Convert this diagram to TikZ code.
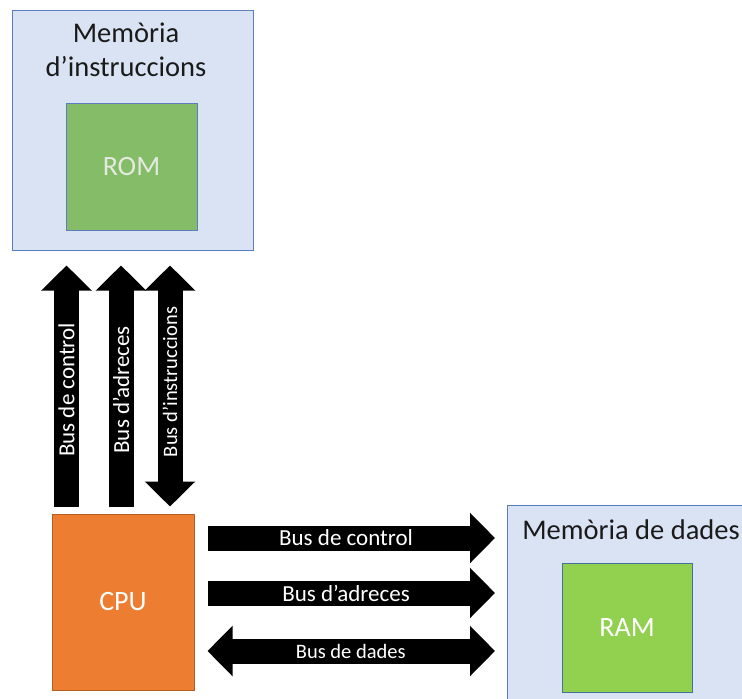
\documentclass[tikz,border=0pt]{standalone}
\usepackage{fontspec}
\setmainfont{Carlito}
\usetikzlibrary{arrows.meta, positioning}
\definecolor{memfill}{HTML}{DAE3F3}
\definecolor{memedge}{HTML}{5B7DBF}
\definecolor{romfill}{HTML}{84BC68}
\definecolor{romtext}{HTML}{E4EADF}
\definecolor{ramfill}{HTML}{92D050}
\definecolor{ramedge}{HTML}{41719C}
\definecolor{cpufill}{HTML}{ED7D31}
\definecolor{cpuedge}{HTML}{B55E22}
\definecolor{titletext}{HTML}{1A1A1A}
\begin{document}
\begin{tikzpicture}
[x=1pt, y=-1pt,
% STYLES
memory/.style={rectangle, draw=memedge, fill=memfill, line width=1pt, inner sep=0pt},
% The chip style is used for ROM, RAM and CPU
chip/.style={rectangle, draw=memedge, line width=1pt, inner sep=0pt, font=\fontsize{28}{28}\selectfont},
title/.style={font=\fontsize{28.5}{34}\selectfont, text=titletext, align=center},
bus/.style={line width=25pt, -{Triangle[width=49pt,length=25pt]}},
dualbus/.style={line width=25pt, {Triangle[width=49pt,length=25pt]}-{Triangle[width=49pt,length=25pt]}},
buslabel/.style={text=white, font=\fontsize{23}{23}\selectfont, inner sep=0pt},
smalllabel/.style={font=\fontsize{20.5}{20.5}\selectfont},
vbus/.style={shorten <=7pt, shorten >=15pt},
hbus/.style={shorten <=13pt, shorten >=12pt}]

\fill [white] (0,0) rectangle (742,699);
\path [use as bounding box, clip] (0,0) rectangle (742,699);

% Draw memories
\node [memory, minimum width=241pt, minimum height=240pt] (imem) at (132.5,130) {};
\node [title] (imemtitle) at (126,50) {Memòria\\d’instruccions};
\node [chip, fill=romfill, text=romtext, minimum width=131pt, minimum height=127pt] (rom) at (131.5,166.5) {ROM};

\node [memory, anchor=north west, minimum width=260pt, minimum height=210pt] (dmem) at (507,505) {};
\node [title] (dmemtitle) at (631,530) {Memòria de dades};
\node [chip, fill=ramfill, draw=ramedge, text=white, minimum width=130pt, minimum height=129pt] (ram) at (627,627.5) {RAM};

\node [chip, fill=cpufill, draw=cpuedge, text=white, minimum width=142pt, minimum height=176pt] (cpu) at (123,602) {CPU};

% Buses to the instruction memory
\draw [bus, vbus] ([xshift=15pt]cpu.north west) coordinate (ctlv) -- (ctlv |- imem.south)
  node [buslabel, rotate=90, pos=.47] (ctlvtext) {Bus de control};
\draw [bus, vbus] ([xshift=69.5pt]cpu.north west) coordinate (adrv) -- (adrv |- imem.south)
  node [buslabel, rotate=90, pos=.47] (adrvtext) {Bus d’adreces};
\draw [dualbus, vbus] ([xshift=118.5pt]cpu.north west) coordinate (insv) -- (insv |- imem.south)
  node [buslabel, smalllabel, rotate=90, midway] (insvtext) {Bus d’instruccions};

% Buses to the data memory
\draw [bus, hbus] ([yshift=64pt]cpu.east) coordinate (ctlh) -- (ctlh -| dmem.west)
  node [buslabel, pos=.485] (ctlhtext) {Bus de control};
\draw [bus, hbus] ([yshift=9pt]cpu.east) coordinate (adrh) -- (adrh -| dmem.west)
  node [buslabel, pos=.485] (adrhtext) {Bus d’adreces};
\draw [dualbus, hbus] ([yshift=-49pt]cpu.east) coordinate (dath) -- (dath -| dmem.west)
  node [buslabel, smalllabel, midway] (dathtext) {Bus de dades};

\end{tikzpicture}
\end{document}
